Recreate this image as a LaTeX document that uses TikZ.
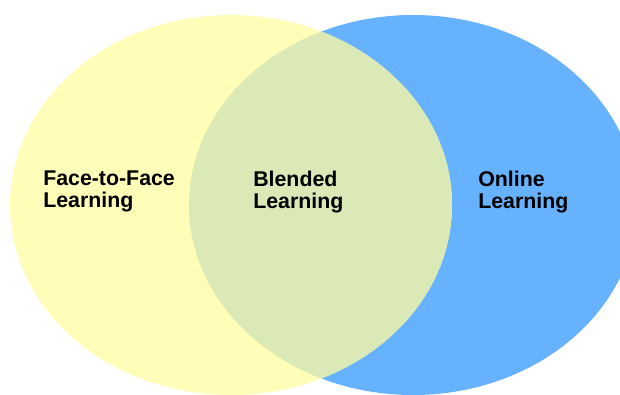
\documentclass[tikz,border=0pt]{standalone}
\usepackage{fontspec}
\setmainfont{Liberation Sans}
\usetikzlibrary{positioning}
\definecolor{ftf}{RGB}{255,253,183}
\definecolor{onl}{RGB}{102,178,255}
\definecolor{bld}{RGB}{218,233,182}

\begin{document}
\begin{tikzpicture}[x=0.75pt,y=0.75pt,
  lbl/.style={align=left,inner sep=0pt,anchor=base west,
              font=\fontsize{16}{15.8}\selectfont\bfseries,text=black}
]
\useasboundingbox (0,0) rectangle (620,394);

% the two sets
\fill[onl] (413,189) ellipse [x radius=224,y radius=190];
\fill[ftf] (231,189) ellipse [x radius=221,y radius=190];

% overlap
\begin{scope}
  \clip (413,189) ellipse [x radius=224,y radius=190];
  \fill[bld] (231,189) ellipse [x radius=221,y radius=190];
\end{scope}

% labels
\node[lbl] (F2F) at (43,187)  {Face-to-Face\\Learning};
\node[lbl] (BL)  at (253,186) {Blended\\Learning};
\node[lbl] (OL)  at (478,186) {Online\\Learning};

\end{tikzpicture}
\end{document}
